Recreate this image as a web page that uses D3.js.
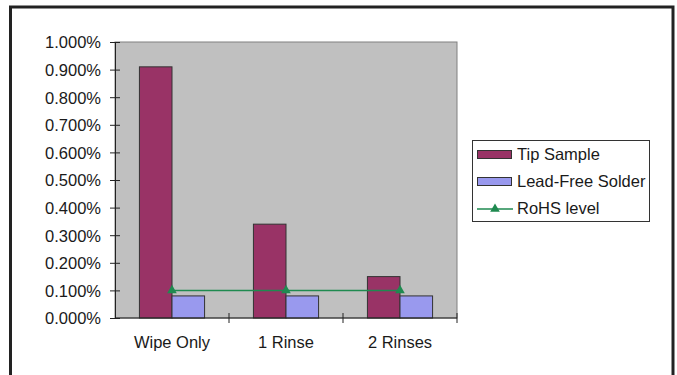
<!DOCTYPE html>
<html>
<head>
<meta charset="utf-8">
<script src="https://cdn.jsdelivr.net/npm/d3@7"></script>
<style>
  html, body { margin: 0; padding: 0; background: #fff; }
  svg { display: block; font-family: "Liberation Sans", Arial, sans-serif; }
</style>
</head>
<body>
<svg id="chart" width="677" height="375"></svg>
<script>
// Residue measurements (percent) for each cleaning step
const categories = ["Wipe Only", "1 Rinse", "2 Rinses"];
const tipSample = [0.91, 0.34, 0.15];
const leadFreeSolder = [0.08, 0.08, 0.08];
const rohsLevel = [0.1, 0.1, 0.1];
const yTicks = [0, 0.1, 0.2, 0.3, 0.4, 0.5, 0.6, 0.7, 0.8, 0.9, 1.0];
const seriesNames = ["Tip Sample", "Lead-Free Solder", "RoHS level"];

const colors = { tip: "#993366", lead: "#9999ee", rohs: "#1f8a50", plot: "#c0c0c0" };
const fontSize = 16.5;
const textColor = "#1a1a1a";

const svg = d3.select("#chart");

// outer chart frame
svg.append("rect")
  .attr("x", 10.5).attr("y", 7)
  .attr("width", 662.5).attr("height", 400)
  .attr("fill", "#fff").attr("stroke", "#222").attr("stroke-width", 3);

const plot = { left: 115, top: 42, right: 457, bottom: 318 };

const x = d3.scaleBand().domain(categories).range([plot.left, plot.right]);
const y = d3.scaleLinear().domain([0, 1.0]).range([plot.bottom, plot.top]);

// bar layout inside each category: two bars, 150% gap
const inner = d3.scaleBand().domain(["tip", "lead"])
  .range([0, x.bandwidth()]).paddingOuter(0.75).paddingInner(0);

// plot background
svg.append("rect")
  .attr("x", plot.left).attr("y", plot.top)
  .attr("width", plot.right - plot.left).attr("height", plot.bottom - plot.top)
  .attr("fill", colors.plot).attr("stroke", "#808080").attr("stroke-width", 1);

// bars
const bars = svg.append("g");
categories.forEach((c, i) => {
  [["tip", tipSample[i], colors.tip], ["lead", leadFreeSolder[i], colors.lead]].forEach(([k, v, col]) => {
    bars.append("rect")
      .attr("x", x(c) + inner(k))
      .attr("y", y(v))
      .attr("width", inner.bandwidth())
      .attr("height", y(0) - y(v))
      .attr("fill", col)
      .attr("stroke", "#333").attr("stroke-width", 1);
  });
});

// RoHS limit line with triangle markers
const rohsPts = categories.map((c, i) => [x(c) + x.bandwidth() / 2, y(rohsLevel[i])]);
svg.append("path")
  .attr("d", d3.line()(rohsPts))
  .attr("fill", "none").attr("stroke", colors.rohs).attr("stroke-width", 1.5);
const tri = d3.symbol().type(d3.symbolTriangle).size(40);
svg.append("g").selectAll("path").data(rohsPts).join("path")
  .attr("d", tri)
  .attr("transform", d => `translate(${d[0]},${d[1]})`)
  .attr("fill", colors.rohs);

// y axis (ticks crossing the axis line)
const yAxis = d3.axisLeft(y).tickValues(yTicks)
  .tickFormat(d => d3.format(".3f")(d) + "%")
  .tickSizeInner(-5).tickSizeOuter(0);
const gy = svg.append("g").attr("transform", `translate(${plot.left},0)`).call(yAxis);
gy.select(".domain").attr("stroke", "#222");
gy.selectAll(".tick line").attr("stroke", "#222").attr("x1", -5).attr("x2", 5);
gy.selectAll(".tick text")
  .attr("x", -14).attr("dy", "0.36em")
  .attr("font-size", fontSize).attr("fill", textColor)
  .attr("font-family", "Liberation Sans, Arial, sans-serif");

// x axis with category boundary ticks
const gx = svg.append("g").attr("transform", `translate(0,${plot.bottom})`);
gx.append("line").attr("x1", plot.left).attr("x2", plot.right)
  .attr("stroke", "#222");
categories.forEach(c => {
  gx.append("line")
    .attr("x1", x(c) + x.bandwidth()).attr("x2", x(c) + x.bandwidth())
    .attr("y1", -5).attr("y2", 5).attr("stroke", "#222");
});
gx.selectAll("text.cat").data(categories).join("text")
  .attr("class", "cat")
  .attr("x", d => x(d) + x.bandwidth() / 2)
  .attr("y", 30)
  .attr("text-anchor", "middle")
  .attr("font-size", fontSize).attr("fill", textColor)
  .text(d => d);

// legend
const lg = svg.append("g");
lg.append("rect").attr("x", 472.5).attr("y", 140.5).attr("width", 177).attr("height", 81)
  .attr("fill", "#fff").attr("stroke", "#333").attr("stroke-width", 1);
const rowY = [155, 182, 209];
lg.append("rect").attr("x", 477.5).attr("y", rowY[0] - 4.5).attr("width", 34).attr("height", 8)
  .attr("fill", colors.tip).attr("stroke", "#333");
lg.append("rect").attr("x", 477.5).attr("y", rowY[1] - 4.5).attr("width", 34).attr("height", 8)
  .attr("fill", colors.lead).attr("stroke", "#333");
lg.append("line").attr("x1", 477).attr("x2", 513).attr("y1", rowY[2]).attr("y2", rowY[2])
  .attr("stroke", colors.rohs).attr("stroke-width", 1.5);
lg.append("path").attr("d", tri).attr("transform", `translate(495,${rowY[2]})`)
  .attr("fill", colors.rohs);
lg.selectAll("text").data(seriesNames).join("text")
  .attr("x", 517).attr("y", (d, i) => rowY[i] + 5)
  .attr("font-size", fontSize).attr("fill", textColor)
  .text(d => d);
</script>
</body>
</html>
